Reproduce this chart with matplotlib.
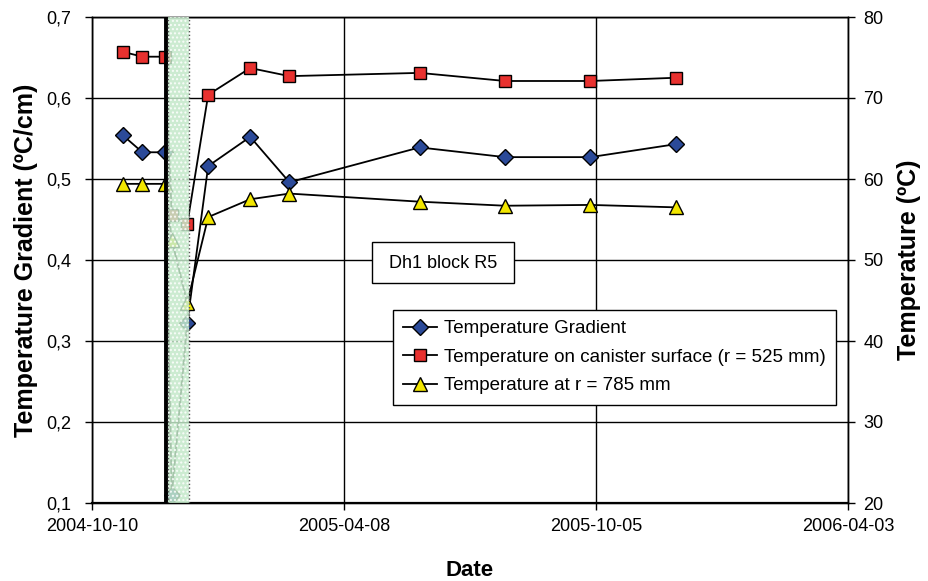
import matplotlib
matplotlib.use('Agg')
import matplotlib.pyplot as plt
import matplotlib.dates as mdates
from matplotlib.patches import Rectangle
import pandas as pd

# data
dates = ['2004-11-01', '2004-11-15', '2004-12-01', '2004-12-06', '2004-12-17', '2005-01-01',
         '2005-01-31', '2005-02-28', '2005-06-01', '2005-08-01', '2005-10-01', '2005-12-01']
gradient = [0.554, 0.533, 0.533, 0.110, 0.322, 0.516, 0.552, 0.496, 0.539, 0.527, 0.527, 0.543]
temp_canister = [75.7, 75.1, 75.1, 55.6, 54.4, 70.4, 73.7, 72.7, 73.1, 72.1, 72.1, 72.5]
temp_785 = [59.4, 59.4, 59.4, 52.5, 44.7, 55.3, 57.5, 58.2, 57.2, 56.7, 56.8, 56.5]

x_ticks = ['2004-10-10', '2005-04-08', '2005-10-05', '2006-04-03']
left_ticks = [0.1, 0.2, 0.3, 0.4, 0.5, 0.6, 0.7]
right_ticks = [20, 30, 40, 50, 60, 70, 80]

heater_off = '2004-12-02'
shade_start, shade_end = '2004-12-03', '2004-12-18'

x = pd.to_datetime(dates)
xt = pd.to_datetime(x_ticks)

plt.rcParams['font.family'] = ['Liberation Sans', 'DejaVu Sans']

fig = plt.figure(figsize=(9.29, 5.81), dpi=100)
ax = fig.add_axes([92 / 929, 1 - 503 / 581, 756 / 929, 486 / 581])
ax2 = ax.twinx()

ax.plot(x, gradient, color='black', lw=1.3, marker='D', ms=8,
        mfc='#2b4a99', mec='black', mew=1, label='Temperature Gradient', zorder=3)
ax2.plot(x, temp_canister, color='black', lw=1.3, marker='s', ms=9,
         mfc='#e8312f', mec='black', mew=1,
         label='Temperature on canister surface (r = 525 mm)', zorder=3)
ax2.plot(x, temp_785, color='black', lw=1.3, marker='^', ms=10,
         mfc='#f2e600', mec='black', mew=1, label='Temperature at r = 785 mm', zorder=3)

# shaded period with the heater switch-off line
ax2.axvline(pd.Timestamp(heater_off), color='black', lw=2.8, zorder=9)
ax2.axvspan(pd.Timestamp(shade_start), pd.Timestamp(shade_end), facecolor='#c3e8c9',
            edgecolor='white', hatch='....', lw=0, alpha=0.85, zorder=10)
for d in (shade_start, shade_end):
    ax2.axvline(pd.Timestamp(d), color='#555555', lw=1, ls=':', zorder=11)

ax.set_xlim(xt[0], xt[-1])
ax.set_xticks(xt)
ax.xaxis.set_major_formatter(mdates.DateFormatter('%Y-%m-%d'))
ax.set_ylim(0.1, 0.7)
ax.set_yticks(left_ticks)
ax.set_yticklabels([f'{v:.1f}'.replace('.', ',') for v in left_ticks])
ax2.set_ylim(20, 80)
ax2.set_yticks(right_ticks)

ax.grid(True, color='black', lw=1)
ax.set_axisbelow(True)
for a in (ax, ax2):
    for s in a.spines.values():
        s.set_linewidth(1)
    a.tick_params(direction='out', length=5, width=1, labelsize=13)
ax.tick_params(axis='y', pad=10)
ax.tick_params(axis='x', pad=6)
ax2.tick_params(axis='y', pad=6)
ax.spines['bottom'].set_linewidth(1.6)

ax.set_xlabel('Date', fontsize=16, fontweight='bold', labelpad=18)
ax.set_ylabel('Temperature Gradient (ºC/cm)', fontsize=18, fontweight='bold', labelpad=6)
ax2.set_ylabel('Temperature (ºC)', fontsize=18, fontweight='bold', labelpad=10)

# annotation box
fig.add_artist(Rectangle((372 / 929, 1 - 283 / 581), 142 / 929, 41 / 581,
                         transform=fig.transFigure, fc='white', ec='black', lw=1))
fig.text(443 / 929, 1 - 263 / 581, 'Dh1 block R5', ha='center', va='center', fontsize=13)

h1, l1 = ax.get_legend_handles_labels()
h2, l2 = ax2.get_legend_handles_labels()
leg = fig.legend(h1 + h2, l1 + l2, loc='upper left', bbox_to_anchor=(393 / 929, 1 - 310 / 581),
                 fontsize=13.5, frameon=True, fancybox=False, framealpha=1, edgecolor='black',
                 handlelength=1.8, handletextpad=0.35, labelspacing=0.6, borderpad=0.55,
                 borderaxespad=0)
leg.get_frame().set_linewidth(1)

plt.savefig('out.png', dpi=100)
